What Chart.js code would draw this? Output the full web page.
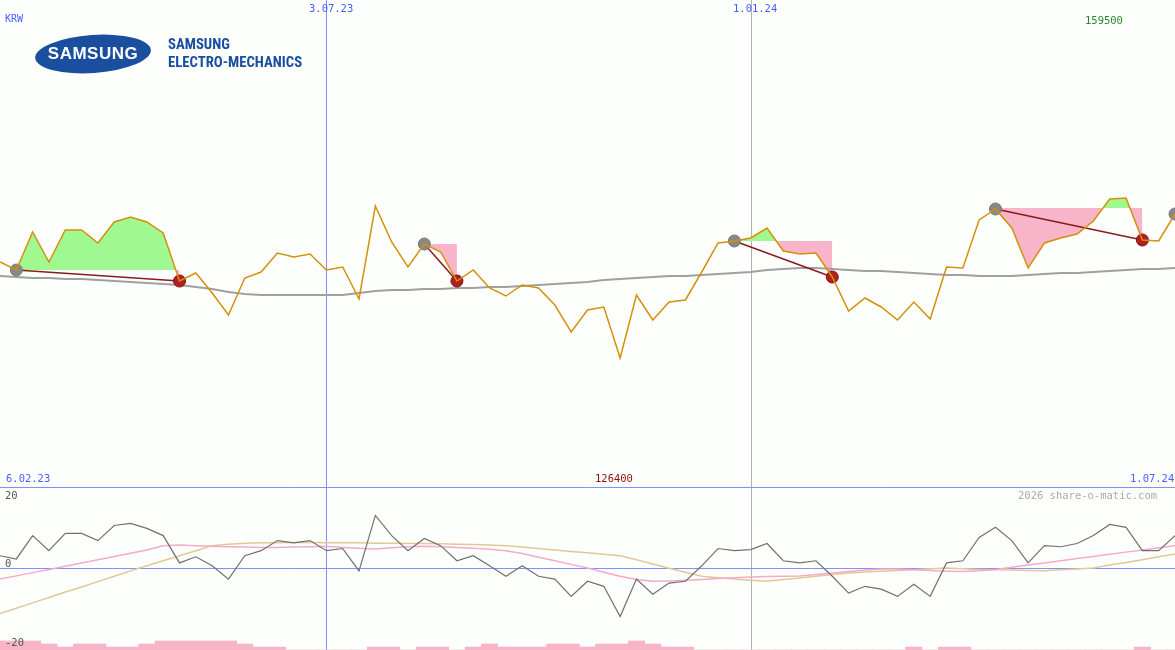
<!DOCTYPE html>
<html><head><meta charset="utf-8">
<script src="https://cdn.jsdelivr.net/npm/chart.js@4/dist/chart.umd.min.js"></script>
<style>
body{margin:0;background:#fdfffd;width:1175px;height:650px;overflow:hidden;position:relative;font-family:"DejaVu Sans Mono",monospace;}
canvas{position:absolute;left:0;}
.t{position:absolute;font-size:10.5px;color:#4a5cff;white-space:nowrap;}
</style></head><body>
<canvas id="top" width="1175" height="487" style="top:0"></canvas>
<canvas id="bot" width="1175" height="163" style="top:487px"></canvas>
<div class="t" style="left:5px;top:13px;font-size:10px">KRW</div>
<div class="t" style="left:309px;top:2px">3.07.23</div>
<div class="t" style="left:733px;top:2px">1.01.24</div>
<div class="t" style="left:1085px;top:14px;color:#2a8a2a">159500</div>
<div class="t" style="left:6px;top:472px">6.02.23</div>
<div class="t" style="left:595px;top:472px;color:#8b1010">126400</div>
<div class="t" style="left:1130px;top:472px">1.07.24</div>
<div class="t" style="left:5px;top:489px;color:#555">20</div>
<div class="t" style="left:5px;top:557px;color:#555">0</div>
<div class="t" style="left:5px;top:636px;color:#555">-20</div>
<div class="t" style="left:1018px;top:489px;color:#aaa">2026 share-o-matic.com</div>
<div style="position:absolute;left:35px;top:35px;width:116px;height:38px;border-radius:50%;background:#1a4fa0;transform:rotate(-4deg)"></div>
<div style="position:absolute;left:35px;top:44px;width:116px;text-align:center;color:#fff;font:bold 17px 'Liberation Sans',Arial;letter-spacing:0.5px">SAMSUNG</div>
<div style="position:absolute;left:168px;top:35px;color:#1a4fa0;font:bold 15.5px 'Roboto Condensed','Liberation Sans Narrow','Liberation Sans';line-height:18px;transform:scaleX(0.95);transform-origin:left">SAMSUNG<br>ELECTRO-MECHANICS</div>
<script>
const labels = Array.from({length:73},(_,i)=>i);
const price = [153800,153000,156800,153800,157000,157000,155700,157800,158300,157800,156700,151900,152700,150700,148500,152200,152800,154700,154300,154600,153000,153300,150100,159400,155800,153300,155600,154800,151900,153000,151200,150400,151500,151200,149500,146800,149000,149300,144200,150500,148000,149800,150000,152800,155700,155900,156200,157200,154900,154600,154700,152300,148900,150200,149300,148000,149800,148100,153300,153200,158000,159100,157200,153200,155700,156200,156600,157900,160100,160200,156000,155900,158600];
const ma = [152400,152300,152200,152200,152100,152100,152000,151900,151800,151700,151600,151500,151300,151100,150800,150600,150500,150500,150500,150500,150500,150500,150700,150900,151000,151000,151100,151100,151200,151200,151300,151300,151400,151500,151600,151700,151800,152000,152100,152200,152300,152400,152400,152500,152600,152700,152800,153000,153100,153200,153200,153100,153000,152900,152900,152800,152700,152600,152500,152500,152400,152400,152400,152500,152600,152700,152700,152800,152900,153000,153100,153100,153200];
const swingLevels = [[1,11,153000],[26,28,155600],[45,51,155900],[61,70,159200]];
const swingStart = [[1,153000],[26,155600],[45,155900],[61,159100],[72,158600]];
const swingEnd = [[11,151900],[28,151900],[51,152300],[70,156000]];
const osc = [3.4,2.5,9.0,4.8,9.6,9.6,7.6,11.8,12.4,11.0,9.0,1.4,3.1,0.6,-3.1,3.4,4.8,7.6,7.0,7.6,4.8,5.4,-0.8,14.6,9.0,4.8,8.2,6.2,2.0,3.4,0.6,-2.3,0.6,-2.3,-3.1,-7.9,-3.7,-5.1,-13.5,-3.1,-7.3,-4.2,-3.7,0.6,5.4,4.8,5.1,6.8,2.0,1.4,2.0,-2.3,-7.0,-5.1,-5.9,-7.9,-4.5,-7.9,1.4,2.0,8.5,11.3,7.6,1.4,6.2,5.9,6.8,9.0,12.1,11.3,4.8,4.8,9.0];
const oscPink = [-3.1,-2.2,-1.3,-0.4,0.5,1.4,2.3,3.2,4.1,5.0,6.2,6.4,6.2,6.0,5.9,5.8,5.7,5.7,5.8,5.9,6.0,5.7,5.5,5.3,5.6,5.9,6.0,5.9,5.7,5.5,5.2,4.8,4.0,3.0,2.0,1.0,0,-1.2,-2.3,-3.2,-3.7,-3.6,-3.4,-3.2,-2.9,-2.7,-2.5,-2.4,-2.3,-2.2,-1.8,-1.4,-1.0,-0.6,-0.3,-0.3,-0.5,-0.7,-0.9,-1.0,-0.8,-0.4,0.2,0.8,1.4,2.0,2.6,3.2,3.8,4.4,5.0,5.6,6.2];
const oscTan = [-12.7,-11.2,-9.7,-8.2,-6.7,-5.3,-3.8,-2.3,-0.8,0.6,2.0,3.4,4.8,6.2,6.6,6.9,7.0,7.0,7.1,7.1,7.0,7.0,7.0,6.9,6.9,6.8,6.8,6.7,6.6,6.5,6.4,6.2,5.8,5.4,5.0,4.6,4.2,3.8,3.4,2.3,1.1,-0.1,-1.2,-2.3,-2.7,-3.1,-3.4,-3.7,-3.2,-2.8,-2.3,-1.8,-1.4,-1.1,-0.9,-0.7,-0.5,-0.2,0,-0.2,-0.4,-0.5,-0.6,-0.7,-0.8,-0.5,-0.3,0,0.8,1.5,2.3,3.1,3.9];
const volume = [9,9,9,6,3,6,6,3,3,6,9,9,9,9,9,6,3,3,0,0,0,0,0,3,3,0,3,3,0,3,6,3,3,3,6,6,3,6,6,9,6,3,3,0,0,0,0,0,0,0,0,0,0,0,0,0,3,0,3,3,0,0,0,0,0,0,0,0,0,0,3,0,0];
const vLines = [[20,'#8090ff'],[46,'#b0b0b8']];

const vline = {id:'vl',beforeDatasetsDraw(c){const x=c.scales.x,ctx=c.ctx;ctx.save();ctx.lineWidth=1;
 vLines.forEach(([i,col])=>{const px=Math.round(x.getPixelForValue(i))+0.5;ctx.strokeStyle=col;ctx.beginPath();ctx.moveTo(px,0);ctx.lineTo(px,c.height);ctx.stroke();});
 if(c.scales.y.min<0){const py=Math.round(c.scales.y.getPixelForValue(0))+0.5;ctx.strokeStyle='#8090ff';ctx.beginPath();ctx.moveTo(0,py);ctx.lineTo(c.width,py);ctx.stroke();
  ctx.beginPath();ctx.moveTo(0,0.5);ctx.lineTo(c.width,0.5);ctx.stroke();}
 ctx.restore();}};

const ds=[];
ds.push({data:price,borderColor:'#d4900a',borderWidth:1.5,pointRadius:0,order:1,label:'price'});
swingLevels.forEach(([a,b,v])=>{ds.push({data:labels.map(i=>i>=a&&i<=b?v:null),borderWidth:0,pointRadius:0,fill:{target:0,above:'#f8b4c8',below:'#a0f890'},order:5});});
ds.push({data:ma,borderColor:'#a0a0a0',borderWidth:2,pointRadius:0,order:4});
swingEnd.forEach(([i,v],k)=>{const [j,w]=swingStart[k];ds.push({data:labels.map(t=>t===j?w:t===i?v:null),spanGaps:true,borderColor:'#8b1a1a',borderWidth:1.5,pointRadius:0,order:3});});
ds.push({data:labels.map(t=>{const s=swingStart.find(p=>p[0]===t);return s?s[1]:null}),showLine:false,pointRadius:6,pointBackgroundColor:'#888',pointBorderColor:'#777',order:2});
ds.push({data:labels.map(t=>{const s=swingEnd.find(p=>p[0]===t);return s?s[1]:null}),showLine:false,pointRadius:6,pointBackgroundColor:'#b02020',pointBorderColor:'#801010',order:2});

const common={responsive:false,animation:false,layout:{padding:0,autoPadding:false},plugins:{legend:{display:false},tooltip:{enabled:false}}};
new Chart(document.getElementById('top'),{type:'line',data:{labels,datasets:ds},plugins:[vline],
 options:{...common,scales:{x:{display:false,offset:false},y:{display:false,min:131300,max:180000}}}});

new Chart(document.getElementById('bot'),{type:'line',data:{labels,datasets:[
 {data:oscTan,borderColor:'#e0c898',borderWidth:1.5,pointRadius:0,order:3},
 {data:oscPink,borderColor:'#f8a8c8',borderWidth:1.5,pointRadius:0,order:2},
 {data:osc,borderColor:'#707070',borderWidth:1.2,pointRadius:0,order:1},
 {type:'bar',data:volume,backgroundColor:'#f8b4c8',yAxisID:'yv',barPercentage:1,categoryPercentage:1,order:4}
]},plugins:[vline],
 options:{...common,scales:{x:{display:false,offset:false},y:{display:false,min:-22.8,max:22.5},yv:{display:false,min:0,max:163}}}});
</script></body></html>
